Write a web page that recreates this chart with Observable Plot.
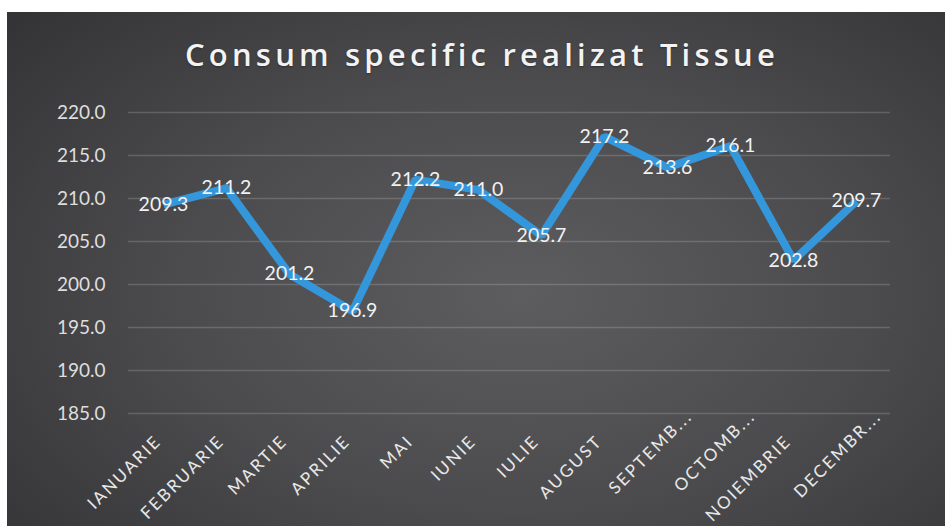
<!DOCTYPE html>
<html>
<head>
<meta charset="utf-8">
<script src="https://cdn.jsdelivr.net/npm/d3@7"></script>
<script src="https://cdn.jsdelivr.net/npm/@observablehq/plot@0.6"></script>
<style>
  html, body { margin: 0; padding: 0; background: #ffffff; width: 945px; height: 526px; overflow: hidden; }
  #panel {
    position: absolute; left: 7px; top: 12px; width: 938px; height: 514px;
    background: radial-gradient(ellipse 75% 85% at 55% 55%, #5d5d5f 0%, #4b4b4d 50%, #323234 100%);
    overflow: hidden;
  }
  #title {
    position: absolute; left: 6px; width: 938px; top: 26px; text-align: center;
    font-family: "Open Sans", Lato, sans-serif; font-weight: 600; font-size: 31px; line-height: 32px;
    letter-spacing: 4.2px; color: #f3f3f3; text-shadow: 0 1px 2px rgba(0,0,0,0.35);
  }
  #chart { position: absolute; left: 0; top: 80px; }
</style>
</head>
<body>
<div id="panel">
  <div id="title">Consum specific realizat Tissue</div>
  <div id="chart"></div>
</div>
<script>
const months = ["IANUARIE", "FEBRUARIE", "MARTIE", "APRILIE", "MAI", "IUNIE", "IULIE", "AUGUST", "SEPTEMB...", "OCTOMB...", "NOIEMBRIE", "DECEMBR..."];
const values = [209.3, 211.2, 201.2, 196.9, 212.2, 211.0, 205.7, 217.2, 213.6, 216.1, 202.8, 209.7];
const yTicks = [185, 190, 195, 200, 205, 210, 215, 220];

const data = months.map((m, i) => ({month: m, value: values[i]}));
const fullLabels = months.filter(m => !m.endsWith("..."));
const truncLabels = months.filter(m => m.endsWith("..."));

const labelStyle = {fontSize: 17, fill: "#e8e8e8", rotate: -45, textAnchor: "end", fontFamily: "Lato, 'Open Sans', sans-serif"};

const chart = Plot.plot({
  width: 938,
  height: 434,
  marginLeft: 121,
  marginRight: 55,
  marginTop: 20,
  marginBottom: 113,
  style: {background: "transparent", color: "#dcdcdc", fontFamily: "Lato, 'Open Sans', sans-serif", overflow: "visible"},
  x: {type: "point", domain: months, padding: 0.5, axis: null},
  y: {domain: [185, 220], axis: null},
  marks: [
    Plot.gridY(yTicks, {stroke: "#ffffff", strokeOpacity: 0.17, strokeWidth: 1.3}),
    Plot.axisY(yTicks, {anchor: "left", tickSize: 0, tickPadding: 23, tickFormat: d => d.toFixed(1), fontSize: 19, fill: "#dedede", label: null}),
    Plot.line(data, {x: "month", y: "value", stroke: "#3497db", strokeWidth: 8, strokeLinejoin: "miter", strokeLinecap: "butt"}),
    Plot.text(data, {x: "month", y: "value", text: d => d.value.toFixed(1), fontSize: 19.5, fill: "#f2f2f2"}),
    Plot.text(fullLabels, {x: d => d, y: () => 185, text: d => d, dx: -5, dy: 25, ...labelStyle}),
    Plot.text(truncLabels, {x: d => d, y: () => 185, text: d => d, dx: 22, dy: 0, ...labelStyle})
  ]
});
chart.querySelectorAll("text").forEach(t => {
  const tr = t.getAttribute("transform");
  if (tr && tr.includes("rotate")) t.style.letterSpacing = "2.2px";
});
document.getElementById("chart").appendChild(chart);
</script>
</body>
</html>
